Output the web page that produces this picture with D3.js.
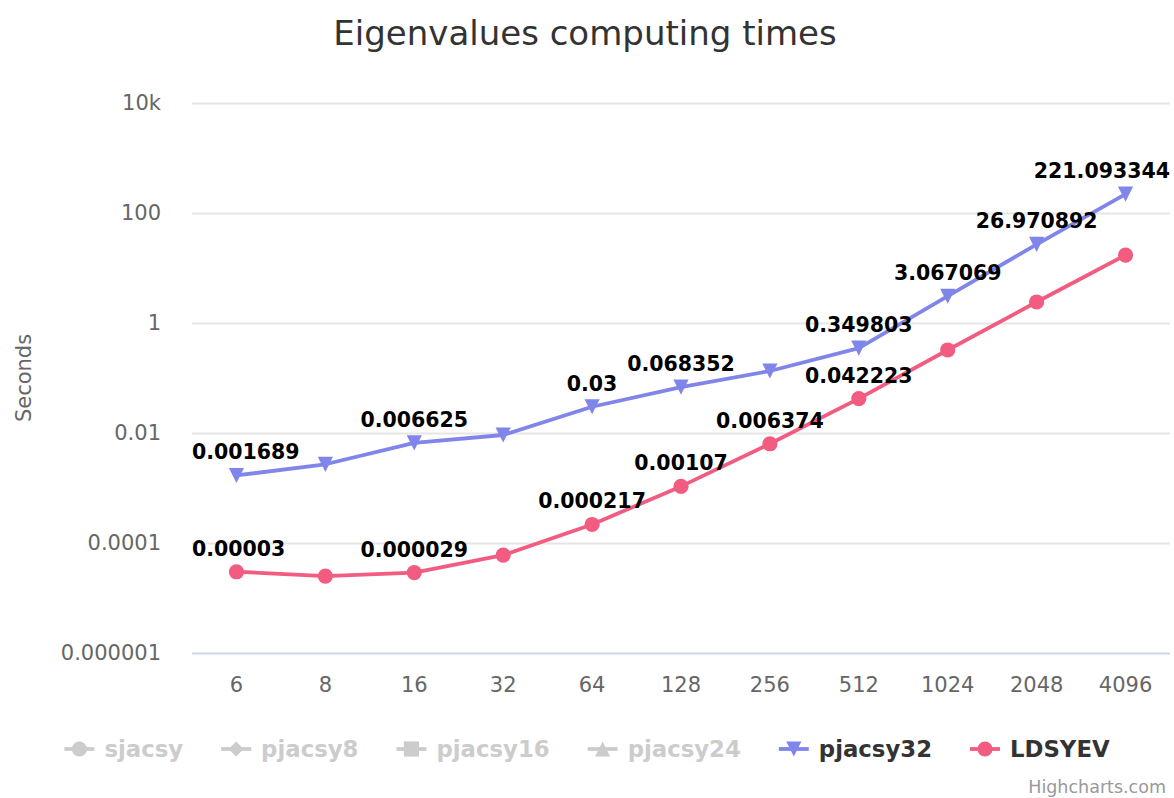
<!DOCTYPE html>
<html><head><meta charset="utf-8">
<script src="https://cdn.jsdelivr.net/npm/d3@7"></script>
<style>body{margin:0;background:#fff}svg{display:block;font-family:"DejaVu Sans",sans-serif}</style>
</head><body><svg id="c" width="1174" height="798"></svg>
<script>
const categories = ["6","8","16","32","64","128","256","512","1024","2048","4096"];
const pjacsy32 = [0.001689,0.0027,0.006625,0.0092,0.03,0.068352,0.134,0.349803,3.067069,26.970892,221.093344];
const ldsyev = [0.00003,0.000025,0.000029,0.00006,0.000217,0.00107,0.006374,0.042223,0.323,2.41,17.2];
const pjacsy32Shown = [1,0,1,0,1,1,0,1,1,1,1];
const ldsyevShown = [1,0,1,0,1,1,1,1,0,0,0];
const yTicks = [1e-6,1e-4,1e-2,1,100,10000];
const yTickLabels = ["0.000001","0.0001","0.01","1","100","10k"];
const legendItems = [
  {name:"sjacsy", symbol:"circle", active:false},
  {name:"pjacsy8", symbol:"diamond", active:false},
  {name:"pjacsy16", symbol:"square", active:false},
  {name:"pjacsy24", symbol:"triangle", active:false},
  {name:"pjacsy32", symbol:"triangle-down", active:true, color:"#8085e9"},
  {name:"LDSYEV", symbol:"circle", active:true, color:"#f15c80"}
];

(function(){
const svg = d3.select("#c");
const W=1174, H=798;
const pLeft=192, pRight=1170, pTop=103, pBottom=653;
const x = d3.scaleBand().domain(categories).range([pLeft,pRight]);
const y = d3.scaleLog().domain([1e-6,1e4]).range([pBottom,pTop]);
const cx = c => x(c)+x.bandwidth()/2;

svg.append("text").attr("x",W/2-2).attr("y",45).attr("text-anchor","middle")
  .attr("font-size",34).attr("fill","#333333").text("Eigenvalues computing times");

const g = svg.append("g");
yTicks.forEach((t,i)=>{
  if(i>0) g.append("line").attr("x1",pLeft).attr("x2",pRight).attr("y1",Math.round(y(t))+0.5).attr("y2",Math.round(y(t))+0.5)
    .attr("stroke","#e6e6e6").attr("stroke-width",2);
  g.append("text").attr("x",161).attr("y",y(t)+7).attr("text-anchor","end").attr("font-size",21)
    .attr("fill","#666666").text(yTickLabels[i]);
});
g.append("line").attr("x1",pLeft).attr("x2",pRight).attr("y1",pBottom+0.5).attr("y2",pBottom+0.5)
  .attr("stroke","#ccd6eb").attr("stroke-width",2);
categories.forEach(c=>{
  g.append("text").attr("x",cx(c)).attr("y",692).attr("text-anchor","middle").attr("font-size",21)
    .attr("fill","#666666").text(c);
});
svg.append("text").attr("transform","translate(31,378) rotate(-90)").attr("text-anchor","middle")
  .attr("font-size",21).attr("fill","#666666").text("Seconds");

function markerPath(s){
  if(s==="triangle-down") return "M-7.6,-7.6L7.6,-7.6L0,7.6Z";
  if(s==="triangle") return "M0,-7.6L7.6,7.6L-7.6,7.6Z";
  if(s==="diamond") return "M0,-7.6L7.6,0L0,7.6L-7.6,0Z";
  if(s==="square") return "M-7.6,-7.6L7.6,-7.6L7.6,7.6L-7.6,7.6Z";
  return d3.symbol().type(d3.symbolCircle).size(Math.PI*7.6*7.6)();
}

const series = [
  {vals:pjacsy32, shown:pjacsy32Shown, color:"#8085e9", symbol:"triangle-down"},
  {vals:ldsyev, shown:ldsyevShown, color:"#f15c80", symbol:"circle"}
];
const line = d3.line().x((d,i)=>cx(categories[i])).y(d=>y(d));
series.forEach(s=>{
  svg.append("path").attr("d",line(s.vals)).attr("fill","none").attr("stroke",s.color).attr("stroke-width",3.8)
    .attr("stroke-linejoin","round").attr("stroke-linecap","round");
  s.vals.forEach((v,i)=>{
    svg.append("path").attr("d",markerPath(s.symbol)).attr("transform",`translate(${cx(categories[i])},${y(v)})`).attr("fill",s.color);
  });
});
series.forEach(s=>{
  s.vals.forEach((v,i)=>{
    if(!s.shown[i]) return;
    const t = svg.append("text").attr("font-size",20.5).attr("font-weight","bold").attr("fill","#000")
      .attr("text-anchor","middle").attr("y",y(v)-16).attr("x",cx(categories[i])).text(String(v));
    const bb = t.node().getBBox();
    let xx = cx(categories[i]);
    if(bb.x < pLeft) xx += pLeft - bb.x;
    if(bb.x+bb.width > pRight) xx -= bb.x+bb.width-pRight;
    t.attr("x",xx);
  });
});

const lg = svg.append("g");
const tw = legendItems.map(it=>{
  const t = lg.append("text").attr("font-size",22.8).attr("font-weight","bold").text(it.name);
  const w = t.node().getComputedTextLength(); t.remove(); return w;
});
const symW=30, gapSym=10, itemGap=38;
const total = tw.reduce((a,w)=>a+symW+gapSym+w,0)+itemGap*(legendItems.length-1);
let lx = (W-total)/2;
const ly = 749;
legendItems.forEach((it,i)=>{
  const col = it.active ? it.color : "#cccccc";
  lg.append("line").attr("x1",lx).attr("x2",lx+symW).attr("y1",ly).attr("y2",ly).attr("stroke",col).attr("stroke-width",3.8);
  lg.append("path").attr("d",markerPath(it.symbol)).attr("transform",`translate(${lx+symW/2},${ly})`).attr("fill",col);
  lg.append("text").attr("x",lx+symW+gapSym).attr("y",ly+8).attr("font-size",22.8).attr("font-weight","bold")
    .attr("fill",it.active?"#333333":"#cccccc").text(it.name);
  lx += symW+gapSym+tw[i]+itemGap;
});
svg.append("text").attr("x",1166).attr("y",793).attr("text-anchor","end").attr("font-size",17.5)
  .attr("fill","#999999").text("Highcharts.com");
})();
</script></body></html>
